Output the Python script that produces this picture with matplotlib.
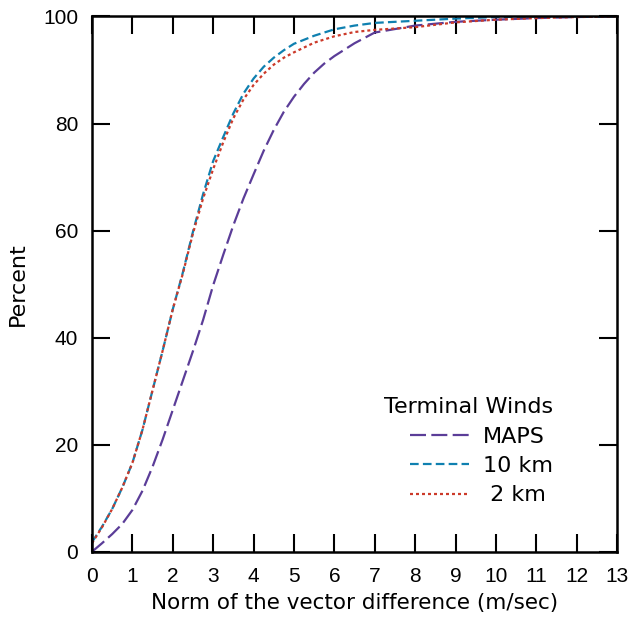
import matplotlib
matplotlib.use("Agg")
import matplotlib.pyplot as plt

x_maps = [0, 0.25, 0.5, 0.75, 1.0, 1.25, 1.5, 1.75, 2.0, 2.25, 2.5, 2.75, 3.0, 3.25, 3.5,
          3.75, 4.0, 4.25, 4.5, 4.75, 5.0, 5.25, 5.5, 5.75, 6.0, 6.5, 7.0, 8, 9, 10, 11, 12, 13]
maps = [0, 1.6, 3.3, 5.2, 7.8, 11.4, 15.9, 21, 26.5, 32, 37.5, 43.3, 49.8, 55.5, 61,
        66, 70.5, 74.9, 78.8, 82.2, 85, 87.4, 89.5, 91.2, 92.6, 95, 97, 98.3, 99.0, 99.4,
        99.7, 99.9, 100]

x_fine = [0, 0.25, 0.5, 0.75, 1.0, 1.25, 1.5, 1.75, 2.0, 2.25, 2.5, 2.75, 3.0, 3.25, 3.5,
          3.75, 4.0, 4.25, 4.5, 4.75, 5.0, 5.5, 6.0, 6.5, 7, 8, 9, 10, 11, 12, 13]
km10 = [1.8, 4.7, 8.0, 12.0, 16.6, 22.8, 30.2, 37.6, 45.3, 52.2, 59.8, 66.8, 73, 77.5, 81.9,
        85.6, 88.4, 90.6, 92.3, 93.7, 94.9, 96.4, 97.6, 98.3, 98.8, 99.2, 99.6, 99.9, 100,
        100, 100]
km2 = [1.6, 4.6, 8.0, 12.0, 16.6, 22.8, 30.2, 37.6, 45.3, 52.0, 59.5, 66.0, 71.5, 76.5, 81.0,
       84.5, 87.2, 89.3, 91.0, 92.3, 93.3, 95.1, 96.3, 97.1, 97.5, 98.0, 98.9, 99.4, 99.7,
       99.9, 100]

labels = ["MAPS", "10 km", " 2 km"]
legend_title = "Terminal Winds"
xlabel = "Norm of the vector difference (m/sec)"
ylabel = "Percent"
xticks = list(range(0, 14))
yticks = [0, 20, 40, 60, 80, 100]

plt.rcParams['font.family'] = ['DejaVu Sans']

fig = plt.figure(figsize=(6.29, 6.22), dpi=100)
ax = fig.add_axes([0.1463, 0.113, 0.981 - 0.1463, 0.9735 - 0.113])

c_maps = "#5b3d98"
c_10 = "#0f80b0"
c_2 = "#cc3a2a"

lw = 1.6
ax.plot(x_maps, maps, color=c_maps, lw=lw, dashes=(7.2, 2.4), label=labels[0])
ax.plot(x_fine, km10, color=c_10, lw=lw, dashes=(3.9, 1.9), label=labels[1])
ax.plot(x_fine, km2, color=c_2, lw=lw, dashes=(1.35, 1.35), label=labels[2])

ax.set_xlim(0, 13)
ax.set_ylim(0, 100)
ax.set_xticks(xticks)
ax.set_yticks(yticks)
ax.tick_params(direction='in', length=13, width=1.5, top=True, right=True,
               labelsize=15, labelfontfamily='Liberation Sans')
ax.tick_params(axis='x', pad=11)
ax.tick_params(axis='y', pad=10)
for s in ax.spines.values():
    s.set_linewidth(1.8)

ax.set_xlabel(xlabel, fontsize=15.5, labelpad=5)
ax.set_ylabel(ylabel, fontsize=16, labelpad=11)

leg = ax.legend(title=legend_title, loc='lower right', bbox_to_anchor=(0.893, 0.072),
                frameon=False, fontsize=16, title_fontsize=16, handlelength=2.65,
                handletextpad=0.63, labelspacing=0.42, borderpad=0.35, borderaxespad=0,
                alignment='right')
fig.savefig("out.png", dpi=100)
